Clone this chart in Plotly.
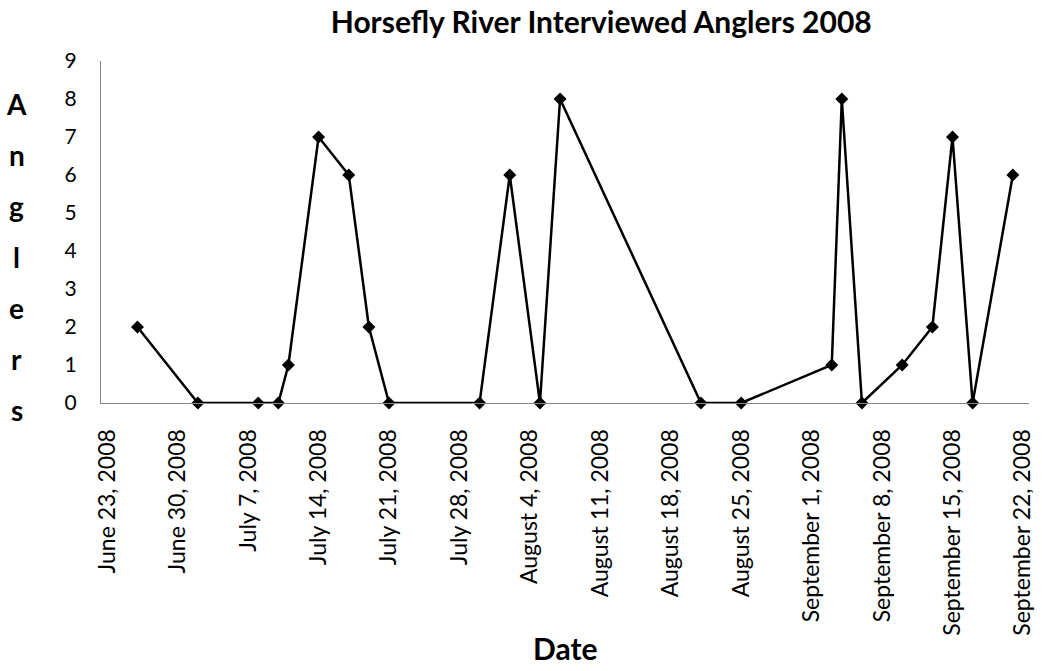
import plotly.graph_objects as go

# survey dates and number of interviewed anglers
dates = [
    "2008-06-26", "2008-07-02", "2008-07-08", "2008-07-10", "2008-07-11",
    "2008-07-14", "2008-07-17", "2008-07-19", "2008-07-21", "2008-07-30",
    "2008-08-02", "2008-08-05", "2008-08-07", "2008-08-21", "2008-08-25",
    "2008-09-03", "2008-09-04", "2008-09-06", "2008-09-10", "2008-09-13",
    "2008-09-15", "2008-09-17", "2008-09-21",
]
anglers = [2, 0, 0, 0, 1, 7, 6, 2, 0, 0, 6, 0, 8, 0, 0, 1, 8, 0, 1, 2, 7, 0, 6]

tick_dates = [
    "2008-06-23", "2008-06-30", "2008-07-07", "2008-07-14", "2008-07-21",
    "2008-07-28", "2008-08-04", "2008-08-11", "2008-08-18", "2008-08-25",
    "2008-09-01", "2008-09-08", "2008-09-15", "2008-09-22",
]
y_ticks = [0, 1, 2, 3, 4, 5, 6, 7, 8, 9]

FONT = "Lato, 'DejaVu Sans', sans-serif"

fig = go.Figure()

fig.add_trace(
    go.Scatter(
        x=dates,
        y=anglers,
        mode="lines+markers",
        line=dict(color="black", width=2.5),
        marker=dict(symbol="diamond", size=10, color="black"),
        cliponaxis=False,
        showlegend=False,
    )
)

fig.update_layout(
    width=1042,
    height=671,
    margin=dict(l=101, r=7, t=61, b=268),
    paper_bgcolor="white",
    plot_bgcolor="white",
    font=dict(family=FONT, color="black"),
    title=dict(
        text="<b>Horsefly River Interviewed Anglers 2008</b>",
        x=0.577,
        xanchor="center",
        y=0.967,
        yanchor="middle",
        font=dict(size=30, family=FONT, color="black"),
    ),
    xaxis=dict(
        type="date",
        range=["2008-06-22 09:00", "2008-09-22 14:30"],
        tickvals=tick_dates,
        tickformat="%B %-d, %Y",
        tickangle=-90,
        tickfont=dict(size=23, color="black"),
        ticks="",
        ticklabelstandoff=16,
        showgrid=False,
        zeroline=False,
        showline=True,
        linecolor="#868686",
        linewidth=1,
    ),
    yaxis=dict(
        range=[0, 9],
        tickvals=y_ticks,
        tickfont=dict(size=21, color="black"),
        ticks="",
        ticklabelstandoff=19,
        showgrid=False,
        zeroline=False,
        showline=True,
        linecolor="#868686",
        linewidth=1,
    ),
)

# x-axis title, centred under the plot area
fig.add_annotation(
    text="<b>Date</b>",
    xref="paper", yref="paper",
    x=0.5, y=(402.7 - 648) / 342.0,
    xanchor="center", yanchor="middle",
    showarrow=False,
    font=dict(size=30, family=FONT, color="black"),
)

# y-axis title, one letter per line like the original
letters = list("Anglers")
for i, ch in enumerate(letters):
    py = 104 + i * 51
    fig.add_annotation(
        text=f"<b>{ch}</b>",
        xref="paper", yref="paper",
        x=(16 - 101) / 934.0, y=(402.7 - py) / 342.0,
        xanchor="center", yanchor="middle",
        showarrow=False,
        font=dict(size=28, family=FONT, color="black"),
    )

fig.write_html(
    "out.html",
    config={"displayModeBar": False},
    post_script="document.body.style.margin='0';",
)
